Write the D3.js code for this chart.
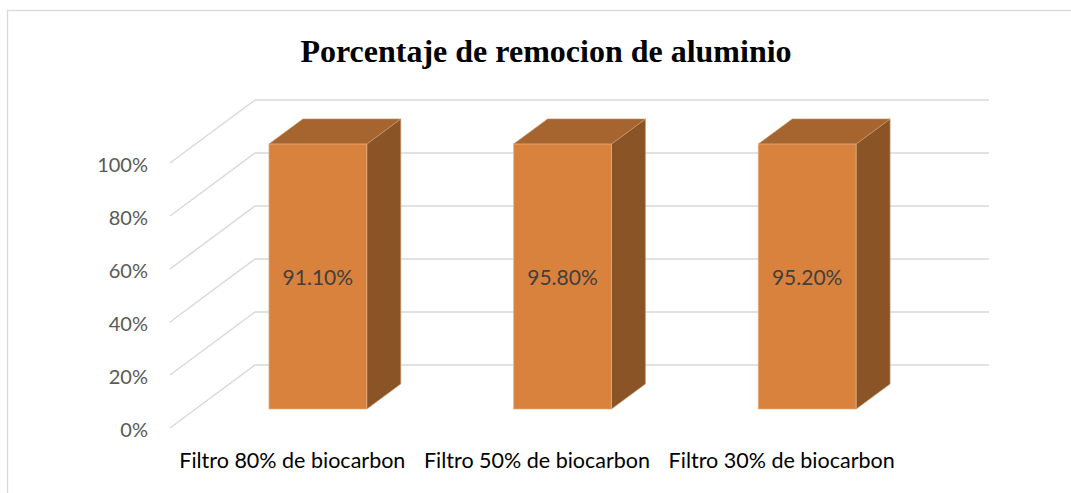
<!DOCTYPE html>
<html>
<head>
<meta charset="utf-8">
<script src="https://cdn.jsdelivr.net/npm/d3@7"></script>
<style>
  html, body { margin: 0; padding: 0; background: #fff; }
  svg { display: block; }
</style>
</head>
<body>
<svg id="chart" width="1071" height="493"></svg>
<script>
// ---- data ----
const title = "Porcentaje de remocion de aluminio";
const categories = ["Filtro 80% de biocarbon", "Filtro 50% de biocarbon", "Filtro 30% de biocarbon"];
// bar heights as drawn in the picture (all reach the 100% level)
const barHeights = [1.0, 1.0, 1.0];
// data labels shown on the bars
const dataLabels = ["91.10%", "95.80%", "95.20%"];
const yTicks = [0, 0.2, 0.4, 0.6, 0.8, 1.0];
const yTickLabels = ["0%", "20%", "40%", "60%", "80%", "100%"];

// ---- layout ----
const svg = d3.select("#chart");
const origin = { x: 170, y: 428 };      // front-left corner of the floor
const depthVec = { x: 85, y: -63 };     // full depth offset (front -> back wall)
const floorWidth = 734;
const barDepth0 = 0.3, barDepth1 = 0.7;

const xBand = d3.scaleBand().domain(categories).range([0, floorWidth]).paddingInner(0.6).paddingOuter(0.3);
const y = d3.scaleLinear().domain([0, 1]).range([0, 265]);

// projection: (x along floor, value, depth 0..1) -> screen
function P(xx, v, d) {
  return [origin.x + xx + depthVec.x * d, origin.y - y(v) + depthVec.y * d];
}

// chart border
svg.append("rect").attr("x", 7.5).attr("y", 10.5).attr("width", 1080).attr("height", 500)
  .attr("fill", "none").attr("stroke", "#d9d9d9").attr("stroke-width", 1.3);

// title
svg.append("text").attr("x", 546).attr("y", 62).attr("text-anchor", "middle")
  .attr("font-family", "'Liberation Serif', 'Times New Roman', serif")
  .attr("font-weight", "bold").attr("font-size", 32).attr("fill", "#000")
  .text(title);

// gridlines (side wall diagonal + back wall horizontal)
const grid = svg.append("g").attr("fill", "none").attr("stroke", "#d9d9d9").attr("stroke-width", 1.5);
yTicks.forEach(v => {
  const a = P(0, v, 0), b = P(0, v, 1), c = P(floorWidth, v, 1);
  grid.append("path").attr("d", `M${a[0]},${a[1]}L${b[0]},${b[1]}L${c[0]},${c[1]}`);
});

// y tick labels
svg.append("g").selectAll("text").data(yTicks).join("text")
  .attr("x", 148).attr("y", v => P(0, v, 0)[1] + 2)
  .attr("dy", "0.35em").attr("text-anchor", "end")
  .attr("font-family", "Lato, 'Noto Sans', sans-serif").attr("font-size", 20)
  .attr("fill", "#595959")
  .text((v, i) => yTickLabels[i]);

// bars
const bars = svg.append("g");
categories.forEach((cat, i) => {
  const x0 = xBand(cat), x1 = x0 + xBand.bandwidth(), h = barHeights[i];
  const g = bars.append("g");
  const f0 = P(x0, 0, barDepth0), f1 = P(x1, 0, barDepth0), f2 = P(x1, h, barDepth0), f3 = P(x0, h, barDepth0);
  const b1 = P(x1, 0, barDepth1), b2 = P(x1, h, barDepth1), b3 = P(x0, h, barDepth1);
  const pts = arr => arr.map(p => p.join(",")).join(" ");
  // side face
  g.append("polygon").attr("points", pts([f1, b1, b2, f2]))
    .attr("fill", "#8b5427").attr("stroke", "#c89a72").attr("stroke-width", 0.6);
  // top face
  g.append("polygon").attr("points", pts([f3, f2, b2, b3]))
    .attr("fill", "#a6652e").attr("stroke", "#c89a72").attr("stroke-width", 0.6);
  // front face
  g.append("polygon").attr("points", pts([f0, f1, f2, f3]))
    .attr("fill", "#d9823e").attr("stroke", "#e8b890").attr("stroke-width", 0.6);
  // data label
  const cx = (f0[0] + f1[0]) / 2, cy = (f0[1] + f3[1]) / 2;
  g.append("text").attr("x", cx).attr("y", cy + 1).attr("dy", "0.35em")
    .attr("text-anchor", "middle")
    .attr("font-family", "Lato, 'Noto Sans', sans-serif").attr("font-size", 21)
    .attr("fill", "#404040").text(dataLabels[i]);
});

// category labels
svg.append("g").selectAll("text").data(categories).join("text")
  .attr("x", d => origin.x + xBand(d) + xBand.bandwidth() / 2)
  .attr("y", 468).attr("text-anchor", "middle")
  .attr("font-family", "Lato, 'Noto Sans', sans-serif").attr("font-size", 21.5)
  .attr("fill", "#000")
  .text(d => d);
</script>
</body>
</html>
